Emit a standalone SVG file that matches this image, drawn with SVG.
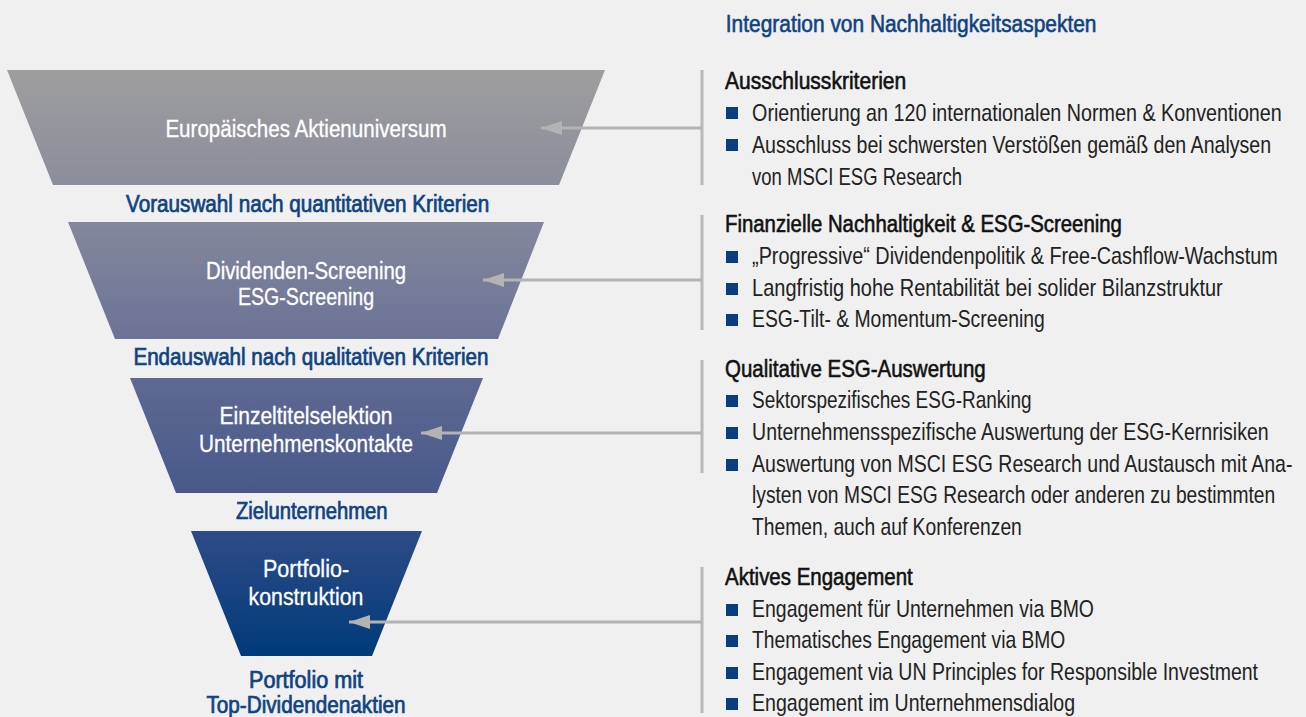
<svg xmlns="http://www.w3.org/2000/svg" width="1306" height="717" viewBox="0 0 1306 717">
  <style>
    text { font-family: "Liberation Sans", Arial, sans-serif; }
    .stage { font-size: 23px; fill: #ffffff; stroke: #ffffff; stroke-width: 0.3; text-anchor: middle; }
    .gate { font-size: 23px; fill: #0f4282; stroke: #0f4282; stroke-width: 0.7; text-anchor: middle; }
    .head { font-size: 24px; fill: #0f4282; stroke: #0f4282; stroke-width: 0.6; }
    .title { font-size: 24px; fill: #111111; stroke: #111111; stroke-width: 0.6; }
    .item { font-size: 24px; fill: #222222; }
    .bullet { fill: #0a3d7d; }
    .bracket { stroke: #b9b9b9; stroke-width: 3; fill: none; }
    .arrow { stroke: #b3b3b3; stroke-width: 3; fill: none; marker-end: url(#tip); }
  </style>
  <defs>
    <linearGradient id="funnelFill" gradientUnits="userSpaceOnUse" x1="0" y1="70" x2="0" y2="656">
      <stop offset="0" stop-color="#9e9e9e"/>
      <stop offset="0.2" stop-color="#8b8d9b"/>
      <stop offset="0.26" stop-color="#84879c"/>
      <stop offset="0.46" stop-color="#6b7396"/>
      <stop offset="0.53" stop-color="#5e6992"/>
      <stop offset="0.72" stop-color="#48598a"/>
      <stop offset="0.79" stop-color="#2d4b86"/>
      <stop offset="1" stop-color="#003a7a"/>
    </linearGradient>
    <marker id="tip" markerUnits="userSpaceOnUse" markerWidth="22" markerHeight="16" refX="21" refY="8" orient="auto">
      <path d="M0,1 L21,8 L0,15 Z" fill="#b3b3b3"/>
    </marker>
  </defs>

  <rect width="1306" height="717" fill="#f0f0f0"/>

  <!-- funnel stages (labels set in a condensed cut: x scaled by 0.82 about the funnel axis x=306) -->
  <g id="stage-universe">
    <polygon points="7,70 605,70 559,185 53,185" fill="url(#funnelFill)"/>
    <g transform="matrix(0.82,0,0,1,306,0)">
      <text class="stage" x="0" y="137" textLength="343" lengthAdjust="spacingAndGlyphs">Europäisches Aktienuniversum</text>
    </g>
  </g>
  <g id="gate-preselection">
    <g transform="matrix(0.82,0,0,1,306,0)">
      <text class="gate" x="2" y="212" textLength="443" lengthAdjust="spacingAndGlyphs">Vorauswahl nach quantitativen Kriterien</text>
    </g>
  </g>
  <g id="stage-screening">
    <polygon points="68,222 544,222 498,339 115,339" fill="url(#funnelFill)"/>
    <g transform="matrix(0.82,0,0,1,306,0)">
      <text class="stage" x="0" y="279" textLength="244" lengthAdjust="spacingAndGlyphs">Dividenden-Screening</text>
      <text class="stage" x="0" y="305" textLength="166" lengthAdjust="spacingAndGlyphs">ESG-Screening</text>
    </g>
  </g>
  <g id="gate-final">
    <g transform="matrix(0.82,0,0,1,306,0)">
      <text class="gate" x="6" y="365" textLength="433" lengthAdjust="spacingAndGlyphs">Endauswahl nach qualitativen Kriterien</text>
    </g>
  </g>
  <g id="stage-selection">
    <polygon points="130,378 483,378 437,493 176,493" fill="url(#funnelFill)"/>
    <g transform="matrix(0.82,0,0,1,306,0)">
      <text class="stage" x="0" y="424" textLength="211" lengthAdjust="spacingAndGlyphs">Einzeltitelselektion</text>
      <text class="stage" x="0" y="452" textLength="261" lengthAdjust="spacingAndGlyphs">Unternehmenskontakte</text>
    </g>
  </g>
  <g id="gate-targets">
    <g transform="matrix(0.82,0,0,1,306,0)">
      <text class="gate" x="7" y="519" textLength="185" lengthAdjust="spacingAndGlyphs">Zielunternehmen</text>
    </g>
  </g>
  <g id="stage-portfolio">
    <polygon points="191,531 422,531 372,656 241,656" fill="url(#funnelFill)"/>
    <g transform="matrix(0.82,0,0,1,306,0)">
      <text class="stage" x="0" y="577" textLength="105" lengthAdjust="spacingAndGlyphs">Portfolio-</text>
      <text class="stage" x="0" y="605" textLength="140" lengthAdjust="spacingAndGlyphs">konstruktion</text>
    </g>
  </g>
  <g id="gate-result">
    <g transform="matrix(0.82,0,0,1,306,0)">
      <text class="gate" x="0" y="688" textLength="139" lengthAdjust="spacingAndGlyphs">Portfolio mit</text>
      <text class="gate" x="0" y="713" textLength="243" lengthAdjust="spacingAndGlyphs">Top-Dividendenaktien</text>
    </g>
  </g>

  <!-- brackets and arrows -->
  <g id="connectors">
    <line class="bracket" x1="702" y1="70" x2="702" y2="185"/>
    <line class="bracket" x1="702" y1="215" x2="702" y2="330"/>
    <line class="bracket" x1="702" y1="360" x2="702" y2="473"/>
    <line class="bracket" x1="702" y1="567" x2="702" y2="713"/>
    <line class="arrow" x1="702" y1="128" x2="541" y2="128"/>
    <line class="arrow" x1="702" y1="280" x2="483" y2="280"/>
    <line class="arrow" x1="702" y1="433" x2="421" y2="433"/>
    <line class="arrow" x1="702" y1="622" x2="349" y2="622"/>
  </g>

  <!-- sustainability criteria; text columns condensed about x=725 -->
  <g id="heading">
    <g transform="matrix(0.82,0,0,1,725,0)">
      <text class="head" x="1" y="32" textLength="452" lengthAdjust="spacingAndGlyphs">Integration von Nachhaltigkeitsaspekten</text>
    </g>
  </g>

  <g id="exclusion">
    <rect class="bullet" x="726" y="107" width="12" height="12"/>
    <rect class="bullet" x="726" y="139" width="12" height="12"/>
    <g transform="matrix(0.82,0,0,1,725,0)">
      <text class="title" x="0" y="89" textLength="221" lengthAdjust="spacingAndGlyphs">Ausschlusskriterien</text>
      <text class="item" x="33" y="121" textLength="646" lengthAdjust="spacingAndGlyphs">Orientierung an 120 internationalen Normen &amp; Konventionen</text>
      <text class="item" x="33" y="153" textLength="633" lengthAdjust="spacingAndGlyphs">Ausschluss bei schwersten Verstößen gemäß den Analysen</text>
      <text class="item" x="33" y="185" textLength="256" lengthAdjust="spacingAndGlyphs">von MSCI ESG Research</text>
    </g>
  </g>

  <g id="financial-screening">
    <rect class="bullet" x="726" y="251" width="12" height="12"/>
    <rect class="bullet" x="726" y="283" width="12" height="12"/>
    <rect class="bullet" x="726" y="314" width="12" height="12"/>
    <g transform="matrix(0.82,0,0,1,725,0)">
      <text class="title" x="0" y="232" textLength="484" lengthAdjust="spacingAndGlyphs">Finanzielle Nachhaltigkeit &amp; ESG-Screening</text>
      <text class="item" x="33" y="264" textLength="641" lengthAdjust="spacingAndGlyphs">„Progressive“ Dividendenpolitik &amp; Free-Cashflow-Wachstum</text>
      <text class="item" x="33" y="296" textLength="574" lengthAdjust="spacingAndGlyphs">Langfristig hohe Rentabilität bei solider Bilanzstruktur</text>
      <text class="item" x="33" y="327" textLength="357" lengthAdjust="spacingAndGlyphs">ESG-Tilt- &amp; Momentum-Screening</text>
    </g>
  </g>

  <g id="qualitative-esg">
    <rect class="bullet" x="726" y="395" width="12" height="12"/>
    <rect class="bullet" x="726" y="427" width="12" height="12"/>
    <rect class="bullet" x="726" y="459" width="12" height="12"/>
    <g transform="matrix(0.82,0,0,1,725,0)">
      <text class="title" x="0" y="377" textLength="318" lengthAdjust="spacingAndGlyphs">Qualitative ESG-Auswertung</text>
      <text class="item" x="33" y="408" textLength="341" lengthAdjust="spacingAndGlyphs">Sektorspezifisches ESG-Ranking</text>
      <text class="item" x="33" y="440" textLength="630" lengthAdjust="spacingAndGlyphs">Unternehmensspezifische Auswertung der ESG-Kernrisiken</text>
      <text class="item" x="33" y="472" textLength="659" lengthAdjust="spacingAndGlyphs">Auswertung von MSCI ESG Research und Austausch mit Ana-</text>
      <text class="item" x="33" y="503" textLength="638" lengthAdjust="spacingAndGlyphs">lysten von MSCI ESG Research oder anderen zu bestimmten</text>
      <text class="item" x="33" y="535" textLength="329" lengthAdjust="spacingAndGlyphs">Themen, auch auf Konferenzen</text>
    </g>
  </g>

  <g id="engagement">
    <rect class="bullet" x="726" y="604" width="12" height="12"/>
    <rect class="bullet" x="726" y="635" width="12" height="12"/>
    <rect class="bullet" x="726" y="667" width="12" height="12"/>
    <rect class="bullet" x="726" y="698" width="12" height="12"/>
    <g transform="matrix(0.82,0,0,1,725,0)">
      <text class="title" x="0" y="585" textLength="229" lengthAdjust="spacingAndGlyphs">Aktives Engagement</text>
      <text class="item" x="33" y="617" textLength="417" lengthAdjust="spacingAndGlyphs">Engagement für Unternehmen via BMO</text>
      <text class="item" x="33" y="648" textLength="382" lengthAdjust="spacingAndGlyphs">Thematisches Engagement via BMO</text>
      <text class="item" x="33" y="680" textLength="617" lengthAdjust="spacingAndGlyphs">Engagement via UN Principles for Responsible Investment</text>
      <text class="item" x="33" y="711" textLength="394" lengthAdjust="spacingAndGlyphs">Engagement im Unternehmensdialog</text>
    </g>
  </g>
</svg>
